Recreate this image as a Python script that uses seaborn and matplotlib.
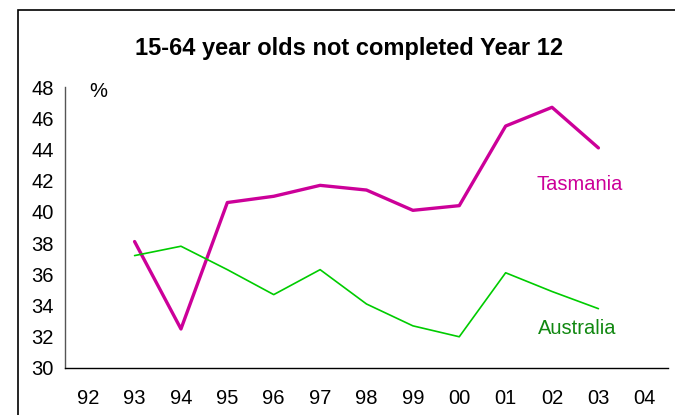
import matplotlib
matplotlib.use('Agg')
import matplotlib.pyplot as plt
from matplotlib.patches import Rectangle
import seaborn as sns
import pandas as pd

# data
year_labels = ['92', '93', '94', '95', '96', '97', '98', '99', '00', '01', '02', '03', '04']
years_data = ['93', '94', '95', '96', '97', '98', '99', '00', '01', '02', '03']
tasmania = [38.1, 32.5, 40.6, 41.0, 41.7, 41.4, 40.1, 40.4, 45.5, 46.7, 44.1]
australia = [37.2, 37.8, 36.3, 34.7, 36.3, 34.1, 32.7, 32.0, 36.1, 34.9, 33.8]

df = pd.DataFrame({
    'pos': [year_labels.index(y) for y in years_data] * 2,
    'value': tasmania + australia,
    'series': ['Tasmania'] * len(tasmania) + ['Australia'] * len(australia),
})

sns.set_style('white')
plt.rcParams['font.family'] = ['Liberation Sans', 'DejaVu Sans']
plt.rcParams['text.color'] = 'black'
plt.rcParams['xtick.color'] = 'black'
plt.rcParams['ytick.color'] = 'black'

fig = plt.figure(figsize=(6.75, 4.15), dpi=100)
ax = fig.add_axes([0.0963, 0.1133, 0.8933, 0.677])

colors = {'Tasmania': '#CC0099', 'Australia': '#00CC00'}
sns.lineplot(data=df[df.series == 'Tasmania'], x='pos', y='value', color=colors['Tasmania'],
             linewidth=2.4, ax=ax, legend=False)
sns.lineplot(data=df[df.series == 'Australia'], x='pos', y='value', color=colors['Australia'],
             linewidth=1.2, ax=ax, legend=False)

ax.set_xlim(-0.5, len(year_labels) - 0.5)
ax.set_ylim(30, 48)
ax.set_yticks(range(30, 49, 2))
ax.set_xticks(range(len(year_labels)))
ax.set_xticklabels(year_labels)
ax.set_xticks([i - 0.5 for i in range(len(year_labels) + 1)], minor=True)
ax.tick_params(axis='x', which='major', length=0, pad=15, labelsize=14.5)
ax.tick_params(axis='x', which='minor', length=5, width=1, direction='out', color='black')
ax.tick_params(axis='y', length=5, width=1, direction='out', color='black', labelsize=14.5, pad=3)
ax.set_xlabel('')
ax.set_ylabel('')

for s in ['top', 'right']:
    ax.spines[s].set_visible(False)
for s in ['left', 'bottom']:
    ax.spines[s].set_color('black')
    ax.spines[s].set_linewidth(1)
ax.spines['left'].set_color('#555555')

ax.text(0.22, 47.7, '%', fontsize=14.5, ha='center', va='center')
ax.text(10.6, 41.75, 'Tasmania', fontsize=14.5, color='#CC0099', ha='center', va='center')
ax.text(10.55, 32.5, 'Australia', fontsize=14.5, color='#118811', ha='center', va='center')

fig.text(0.517, 0.882, '15-64 year olds not completed Year 12', fontsize=17,
         fontweight='bold', ha='center', va='center')

# outer chart frame
fig.add_artist(Rectangle((18 / 675, -0.2), 1.2, 0.2 + (415 - 10) / 415, fill=False,
                         edgecolor='black', linewidth=1.2, transform=fig.transFigure))

fig.savefig('out.png', dpi=100)
